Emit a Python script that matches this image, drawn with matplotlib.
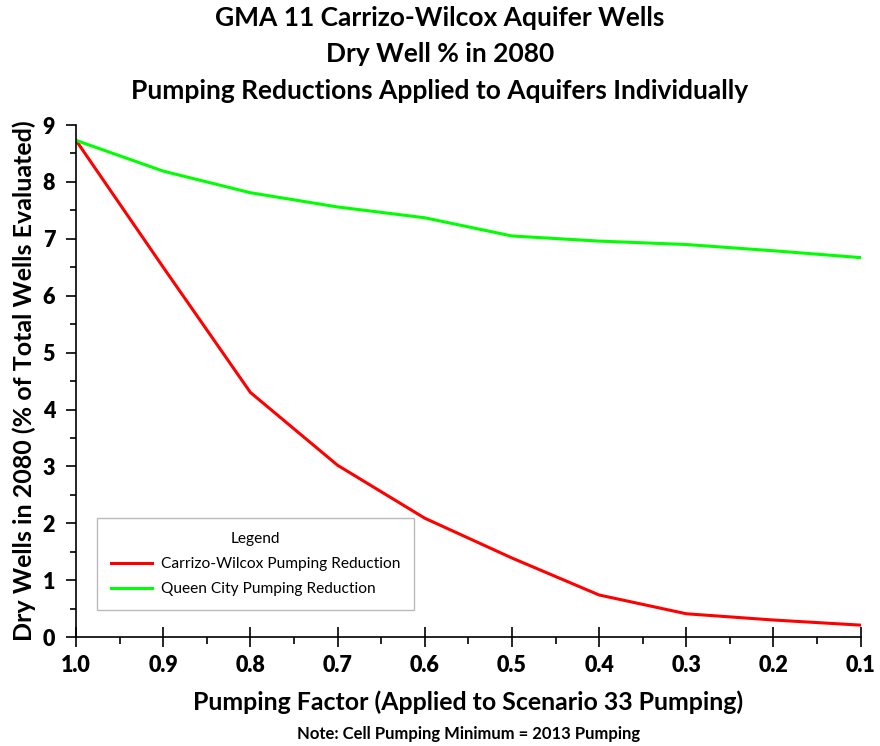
import matplotlib
matplotlib.use("Agg")
import matplotlib.pyplot as plt
import matplotlib.transforms as mtransforms
from matplotlib.ticker import MultipleLocator, FormatStrFormatter

plt.rcParams['font.family'] = ['Lato', 'DejaVu Sans']

pumping_factor = [1.0, 0.9, 0.8, 0.7, 0.6, 0.5, 0.4, 0.3, 0.2, 0.1]
carrizo_wilcox = [8.73, 6.50, 4.30, 3.02, 2.09, 1.39, 0.74, 0.41, 0.30, 0.21]
queen_city = [8.73, 8.19, 7.81, 7.56, 7.37, 7.05, 6.96, 6.90, 6.79, 6.67]

fig = plt.figure(figsize=(8.8, 7.46), dpi=100)
ax = fig.add_axes([0.0864, 0.146, 0.8916, 0.6864])

ax.plot(pumping_factor, carrizo_wilcox, color='#FF0000', lw=2.2, label='Carrizo-Wilcox Pumping Reduction')
ax.plot(pumping_factor, queen_city, color='#00FF00', lw=2.2, label='Queen City Pumping Reduction')

ax.set_xlim(1.0, 0.1)
ax.set_ylim(0, 9)
ax.spines['top'].set_visible(False)
ax.spines['right'].set_visible(False)
for s in ('left', 'bottom'):
    ax.spines[s].set_linewidth(1.2)
ax.xaxis.set_major_locator(MultipleLocator(0.1))
ax.xaxis.set_minor_locator(MultipleLocator(0.05))
ax.xaxis.set_major_formatter(FormatStrFormatter('%.1f'))
ax.yaxis.set_major_locator(MultipleLocator(1))
ax.yaxis.set_minor_locator(MultipleLocator(0.5))
ax.tick_params(axis='x', which='major', direction='inout', length=14, width=1.2, pad=6, labelsize=15.5)
ax.tick_params(axis='x', which='minor', direction='out', length=5, width=1.2)
ax.tick_params(axis='y', which='major', direction='out', length=7, width=1.2, pad=8, labelsize=15.5)
ax.tick_params(axis='y', which='minor', direction='out', length=4, width=1.2)
for lab in ax.get_xticklabels() + ax.get_yticklabels():
    lab.set_fontweight('heavy')

ax.set_xlabel('Pumping Factor (Applied to Scenario 33 Pumping)', fontsize=17.9, fontweight='bold', labelpad=10)
ax.set_ylabel('Dry Wells in 2080 (% of Total Wells Evaluated)', fontsize=18, fontweight='bold', labelpad=5)

fig.text(0.5, 0.992, 'GMA 11 Carrizo-Wilcox Aquifer Wells\nDry Well % in 2080\nPumping Reductions Applied to Aquifers Individually',
         ha='center', va='top', fontsize=19, fontweight='bold', linespacing=1.62)
note_tr = mtransforms.blended_transform_factory(ax.transAxes, fig.transFigure)
ax.text(0.5, 0.006, 'Note: Cell Pumping Minimum = 2013 Pumping', transform=note_tr,
        ha='center', va='bottom', fontsize=12, fontweight='bold')

leg = ax.legend(loc='lower left', bbox_to_anchor=(0.027, 0.053), title='Legend', fontsize=11.2,
                title_fontsize=11.2, fancybox=False, edgecolor='#BBBBBB', framealpha=1,
                handlelength=2.6, handletextpad=0.6, borderpad=0.9, labelspacing=0.7, borderaxespad=0)
leg.get_frame().set_linewidth(1.0)
leg._legend_box.sep = 8

fig.savefig('out.png', dpi=100)
